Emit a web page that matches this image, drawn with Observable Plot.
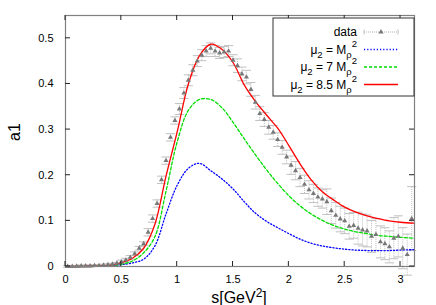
<!DOCTYPE html>
<html><head><meta charset="utf-8">
<script src="https://cdn.jsdelivr.net/npm/d3@7"></script>
<script src="https://cdn.jsdelivr.net/npm/@observablehq/plot@0.6"></script>
<style>body{margin:0;background:#fff}</style>
</head><body><div id="chart"></div>
<script>
const xTicks = [0, 0.5, 1, 1.5, 2, 2.5, 3];
const yTicks = [0, 0.1, 0.2, 0.3, 0.4, 0.5];

const curveS = [0, 0.1, 0.2, 0.3, 0.4, 0.5, 0.6, 0.7, 0.8, 0.9, 1.0, 1.1, 1.2, 1.3, 1.4, 1.5, 1.6, 1.7, 1.8, 1.9, 2.0, 2.1, 2.2, 2.3, 2.4, 2.5, 2.6, 2.7, 2.8, 2.9, 3.0, 3.125];
const redV   = [0, 0, 0.0005, 0.001, 0.003, 0.008, 0.018, 0.04, 0.092, 0.198, 0.295, 0.40, 0.462, 0.487, 0.476, 0.447, 0.398, 0.362, 0.332, 0.303, 0.265, 0.225, 0.19, 0.164, 0.146, 0.13, 0.119, 0.111, 0.105, 0.1, 0.097, 0.095];
const greenV = [0, 0, 0.0004, 0.001, 0.002, 0.005, 0.012, 0.03, 0.065, 0.165, 0.273, 0.342, 0.366, 0.366, 0.348, 0.316, 0.28, 0.245, 0.212, 0.182, 0.155, 0.133, 0.115, 0.101, 0.09, 0.082, 0.076, 0.072, 0.068, 0.066, 0.064, 0.062];
const blueV  = [0, 0, 0.0003, 0.001, 0.002, 0.004, 0.008, 0.016, 0.045, 0.115, 0.178, 0.215, 0.226, 0.21, 0.192, 0.17, 0.142, 0.117, 0.099, 0.085, 0.072, 0.06, 0.051, 0.045, 0.041, 0.038, 0.036, 0.035, 0.035, 0.035, 0.036, 0.037];

const dataS = [0.02,0.06,0.10,0.14,0.18,0.22,0.26,0.30,0.34,0.38,0.42,0.46,0.50,0.54,0.58,0.62,0.66,0.70,0.74,0.78,0.82,0.86,0.90,0.94,0.98,1.02,1.06,1.10,1.14,1.18,1.22,1.26,1.30,1.34,1.38,1.42,1.46,1.50,1.54,1.58,1.62,1.66,1.70,1.74,1.78,1.82,1.86,1.90,1.94,1.98,2.02,2.06,2.10,2.14,2.18,2.22,2.26,2.30,2.34,2.38,2.42,2.46,2.50,2.54,2.58,2.62,2.66,2.70,2.74,2.78,2.82,2.86,2.90,2.94,2.98,3.02,3.06,3.10];
const dataV = [0,0,0.0005,0.001,0.001,0.001,0.002,0.002,0.003,0.004,0.005,0.007,0.010,0.014,0.020,0.028,0.040,0.050,0.075,0.105,0.138,0.190,0.232,0.283,0.320,0.345,0.380,0.408,0.430,0.450,0.463,0.472,0.478,0.472,0.468,0.470,0.472,0.452,0.440,0.422,0.415,0.388,0.360,0.335,0.322,0.305,0.294,0.278,0.261,0.240,0.222,0.210,0.195,0.180,0.168,0.160,0.152,0.148,0.142,0.122,0.112,0.104,0.100,0.088,0.090,0.084,0.080,0.078,0.066,0.070,0.054,0.050,0.043,0.062,0.066,0.040,0.026,0.105];
const dataE = [0.002,0.002,0.002,0.002,0.002,0.002,0.002,0.002,0.002,0.002,0.002,0.002,0.004,0.004,0.004,0.004,0.004,0.004,0.008,0.008,0.008,0.008,0.008,0.008,0.008,0.012,0.012,0.012,0.012,0.012,0.012,0.012,0.012,0.012,0.012,0.012,0.012,0.012,0.015,0.015,0.015,0.015,0.015,0.015,0.015,0.015,0.015,0.015,0.015,0.015,0.02,0.02,0.02,0.02,0.02,0.02,0.02,0.02,0.028,0.028,0.028,0.028,0.028,0.028,0.028,0.035,0.035,0.035,0.035,0.035,0.035,0.035,0.035,0.045,0.045,0.045,0.045,0.07];

const colors = {mu1: "#0000ff", mu7: "#00dd00", mu85: "#ff0000"};
const dashes = {mu1: "1.2,2", mu7: "3,2", mu85: "none"};

const points = dataS.map((s, i) => ({s, v: dataV[i], e: dataE[i]}));
const curves = [
  ...curveS.map((s, i) => ({s, v: blueV[i], k: "mu1"})),
  ...curveS.map((s, i) => ({s, v: greenV[i], k: "mu7"})),
  ...curveS.map((s, i) => ({s, v: redV[i], k: "mu85"}))
];

const capSymbol = {draw(ctx, size) { const w = Math.sqrt(size); ctx.moveTo(-w, 0); ctx.lineTo(w, 0); }};

const plot = Plot.plot({
  width: 436, height: 305,
  marginTop: 15, marginRight: 22, marginBottom: 39, marginLeft: 65,
  x: {domain: [0, 3.125]},
  y: {domain: [0, 0.55]},
  style: {fontFamily: "'Liberation Sans', Arial, sans-serif", fontSize: "11px", background: "white", color: "#000"},
  marks: [
    Plot.ruleX(points, {x: "s", y1: d => d.v - d.e, y2: d => d.v + d.e, stroke: "#c0c0c0", strokeDasharray: "1,1", strokeWidth: 1}),
    Plot.dot(points, {x: "s", y: d => d.v + d.e, symbol: capSymbol, r: 2.6, stroke: "#c0c0c0", strokeWidth: 1}),
    Plot.dot(points, {x: "s", y: d => d.v - d.e, symbol: capSymbol, r: 2.6, stroke: "#c0c0c0", strokeWidth: 1}),
    ...["mu1", "mu7", "mu85"].map(k => Plot.line(curves.filter(d => d.k === k), {
      x: "s", y: "v", stroke: colors[k], strokeWidth: 1.3, strokeDasharray: dashes[k], curve: "catmull-rom"
    })),
    Plot.dot(points, {x: "s", y: "v", symbol: "triangle", r: 1.9, fill: "#787878", stroke: "none"}),
    Plot.axisX({ticks: xTicks, tickSize: 0, tickPadding: 9, tickFormat: d => String(d), label: null}),
    Plot.axisY({ticks: yTicks, tickSize: 0, tickPadding: 12, tickFormat: d => String(d), label: null}),
    Plot.frame({stroke: "#808080", strokeWidth: 1.2})
  ]
});

document.getElementById("chart").appendChild(plot);

const svg = d3.select(plot);
const xs = plot.scale("x"), ys = plot.scale("y");
const L = 65, R = 436 - 22, T = 15, B = 305 - 39, tk = 5;
const g = svg.append("g").attr("stroke", "#222").attr("stroke-width", 1);
xTicks.forEach(t => {
  const x = xs.apply(t);
  g.append("line").attr("x1", x).attr("x2", x).attr("y1", B).attr("y2", B - tk);
  g.append("line").attr("x1", x).attr("x2", x).attr("y1", T).attr("y2", T + tk);
});
yTicks.forEach(t => {
  const y = ys.apply(t);
  g.append("line").attr("y1", y).attr("y2", y).attr("x1", L).attr("x2", L + tk);
  g.append("line").attr("y1", y).attr("y2", y).attr("x1", R).attr("x2", R - tk);
});

const font = "'Liberation Sans', Arial, sans-serif";
svg.append("text").attr("transform", "translate(20,132) rotate(-90)").attr("text-anchor", "middle")
  .attr("font-family", font).attr("font-size", 16).text("a1");
const xl = svg.append("text").attr("x", 239).attr("y", 303).attr("text-anchor", "middle")
  .attr("font-family", font).attr("font-size", 16);
xl.append("tspan").text("s[GeV");
xl.append("tspan").attr("dy", -6).attr("font-size", 12).text("2");
xl.append("tspan").attr("dy", 6).text("]");

// legend
const lg = svg.append("g").attr("font-family", font).attr("font-size", 12);
lg.append("rect").attr("x", 273).attr("y", 18).attr("width", R - 273).attr("height", 78)
  .attr("fill", "white").attr("stroke", "#333").attr("stroke-width", 1);
const rowY = [32, 49.5, 67, 84.5];
const legendParts = [
  [["data", 0]],
  [["μ", 0], ["2", 4], [" = M", -4], ["ρ", 4], ["2", -11], ["", 7]],
  [["μ", 0], ["2", 4], [" = 7 M", -4], ["ρ", 4], ["2", -11], ["", 7]],
  [["μ", 0], ["2", 4], [" = 8.5 M", -4], ["ρ", 4], ["2", -11], ["", 7]]
];
legendParts.forEach((parts, i) => {
  const t = lg.append("text").attr("x", 357).attr("y", rowY[i] + 4).attr("text-anchor", "end");
  parts.forEach(([txt, dy]) => {
    const small = txt === "2" || txt === "ρ";
    t.append("tspan").attr("dy", dy).attr("font-size", small ? 9.5 : 12).text(txt);
  });
});
const sx1 = 364, sx2 = 398;
lg.append("line").attr("x1", sx1).attr("x2", sx2).attr("y1", rowY[0]).attr("y2", rowY[0])
  .attr("stroke", "#b0b0b0").attr("stroke-dasharray", "1,1");
[sx1, sx2].forEach(x => lg.append("line").attr("x1", x).attr("x2", x).attr("y1", rowY[0] - 2.5).attr("y2", rowY[0] + 2.5).attr("stroke", "#c0c0c0"));
lg.append("path").attr("d", d3.symbol(d3.symbolTriangle, 12)()).attr("transform", `translate(${(sx1 + sx2) / 2},${rowY[0]})`).attr("fill", "#787878");
["mu1", "mu7", "mu85"].forEach((k, i) => {
  lg.append("line").attr("x1", sx1).attr("x2", sx2).attr("y1", rowY[i + 1]).attr("y2", rowY[i + 1])
    .attr("stroke", colors[k]).attr("stroke-width", 1.3).attr("stroke-dasharray", dashes[k]);
});
</script></body></html>
